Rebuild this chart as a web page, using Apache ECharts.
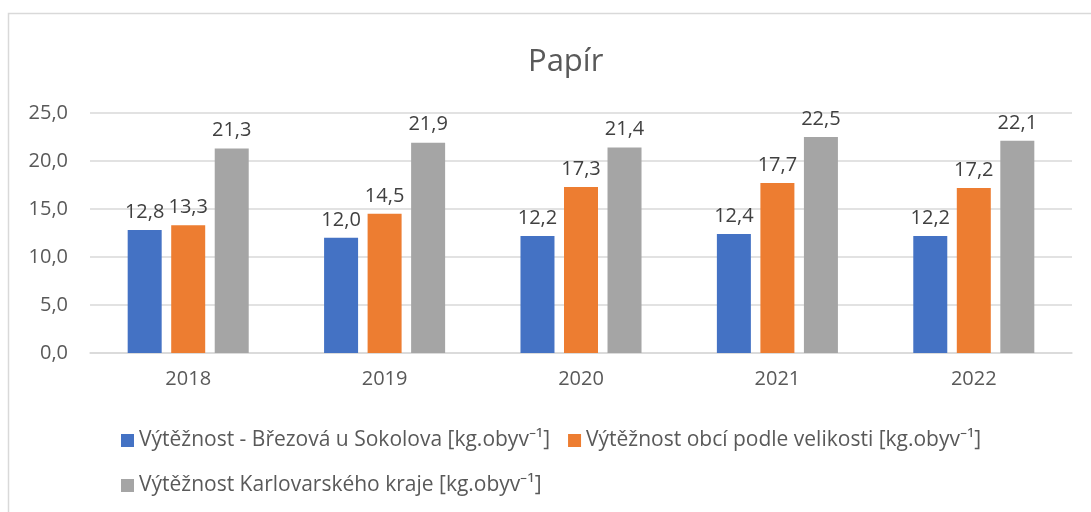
<!DOCTYPE html>
<html>
<head>
<meta charset="utf-8">
<script src="https://cdn.jsdelivr.net/npm/echarts@6/dist/echarts.min.js"></script>
<style>html,body{margin:0;padding:0;background:#fff;}#c{width:1091px;height:512px;}</style>
</head>
<body>
<div id="c"></div>
<script>
var categories = ['2018', '2019', '2020', '2021', '2022'];
var seriesNames = [
  'Výtěžnost - Březová u Sokolova [kg.obyv\u207B\u00B9]',
  'Výtěžnost obcí podle velikosti [kg.obyv\u207B\u00B9]',
  'Výtěžnost Karlovarského kraje [kg.obyv\u207B\u00B9]'
];
var brezova = [12.8, 12.0, 12.2, 12.4, 12.2];
var obce = [13.3, 14.5, 17.3, 17.7, 17.2];
var kraj = [21.3, 21.9, 21.4, 22.5, 22.1];
var colors = ['#4472C4', '#ED7D31', '#A5A5A5'];
var FONT = 'Open Sans';
function fmt(v) { return Number(v).toFixed(1).replace('.', ','); }
var chart = echarts.init(document.getElementById('c'));
function mk(name, data, color) {
  return {
    name: name, type: 'bar', data: data,
    barWidth: 34, barGap: '28%',
    itemStyle: { color: color },
    label: { show: true, position: 'top', distance: 8, color: '#404040', fontFamily: FONT, fontSize: 20,
      formatter: function (p) { return fmt(p.value); } }
  };
}
chart.setOption({
  animation: false,
  backgroundColor: '#fff',
  graphic: [{ type: 'rect', shape: { x: 8.5, y: 13.5, width: 1100, height: 520 },
    style: { fill: 'none', stroke: '#d9d9d9', lineWidth: 1.5 }, z: -1 }],
  title: { text: 'Papír', left: 523, top: 42, textStyle: { color: '#595959', fontFamily: FONT, fontSize: 31, fontWeight: 'normal' } },
  legend: [
    { data: [seriesNames[0], seriesNames[1]], left: 116, top: 425, itemWidth: 13, itemHeight: 13, itemGap: 18,
      icon: 'rect', textStyle: { color: '#595959', fontFamily: FONT, fontSize: 21 } },
    { data: [seriesNames[2]], left: 116, top: 470, itemWidth: 13, itemHeight: 13,
      icon: 'rect', textStyle: { color: '#595959', fontFamily: FONT, fontSize: 21 } }
  ],
  grid: { left: 90, right: 19, top: 113, bottom: 159, containLabel: false },
  xAxis: { type: 'category', data: categories,
    axisLine: { lineStyle: { color: '#d9d9d9', width: 1.5 } }, axisTick: { show: false },
    axisLabel: { color: '#595959', fontFamily: FONT, fontSize: 20, margin: 16 } },
  yAxis: { type: 'value', min: 0, max: 25, interval: 5,
    axisLine: { show: false }, axisTick: { show: false },
    splitLine: { lineStyle: { color: '#d9d9d9', width: 1.5 } },
    axisLabel: { color: '#595959', fontFamily: FONT, fontSize: 20, margin: 22, formatter: fmt } },
  series: [mk(seriesNames[0], brezova, colors[0]), mk(seriesNames[1], obce, colors[1]), mk(seriesNames[2], kraj, colors[2])]
});
</script>
</body>
</html>
